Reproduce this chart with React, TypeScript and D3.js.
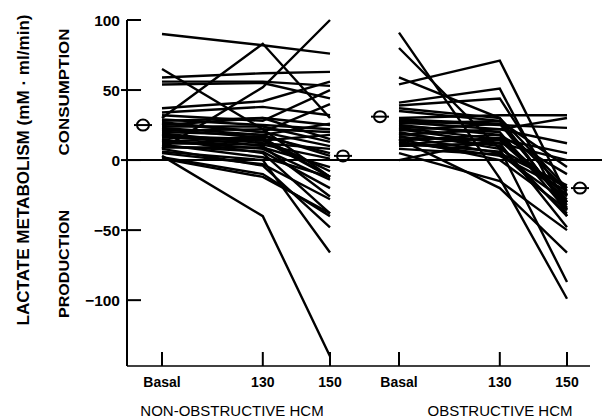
import React from "react";
import * as d3 from "d3";

// workload levels: basal drawn as 100 so 130/150 fall where the paper puts them
const levels = [100, 130, 150];
const levelLabels = ["Basal", "130", "150"];
const yTicks = [100, 50, 0, -50, -100];

// each row: [basal, 130, 150]
const nonObstructive = [
  [90, 82, 76],
  [30, 83, 30],
  [8, 52, 100],
  [65, 22, -12],
  [59, 62, 63],
  [56, 56, 53],
  [54, 55, 44],
  [37, 42, 56],
  [34, 38, 32],
  [32, 28, 50],
  [29, 25, 22],
  [28, 30, 15],
  [27, 20, 40],
  [26, 20, 10],
  [24, 24, 13],
  [23, 18, 26],
  [22, 16, -12],
  [21, 22, 20],
  [20, 18, 3],
  [19, 12, 8],
  [18, 10, -26],
  [17, 15, -8],
  [16, 14, -12],
  [15, 5, -38],
  [14, 8, -14],
  [13, 17, 5],
  [12, 11, 1],
  [11, 2, -12],
  [10, 6, -20],
  [9, 9, -5],
  [8, -4, -48],
  [6, 0, -66],
  [5, -3, -28],
  [3, -40, -140],
  [2, -10, -40],
  [1, -12, -38],
  [12, 14, 18],
  [25, 30, 25],
];

const obstructive = [
  [91, -13, -99],
  [80, 8, -87],
  [59, 30, -35],
  [54, 71, -25],
  [41, 51, -40],
  [39, 44, -30],
  [37, 30, -20],
  [35, 28, -34],
  [30, 32, 32],
  [29, 26, -22],
  [28, 25, 23],
  [27, 22, 12],
  [26, 28, -5],
  [25, 18, -30],
  [24, 20, -36],
  [23, 15, -25],
  [22, 12, -48],
  [21, 26, -32],
  [20, 8, -20],
  [19, 10, -40],
  [18, 22, 30],
  [17, 5, -18],
  [16, 14, -28],
  [15, -20, -66],
  [15, 0, -35],
  [14, 18, -10],
  [13, 3, -22],
  [12, 6, -38],
  [11, 16, -26],
  [10, 12, 0],
  [8, 4, -30],
  [0, 15, 5],
  [5, -15, -50],
];

// group means at basal and 150
const meanNon = [25, 3];
const meanObs = [31, -20];

const font = "'Liberation Sans', Arial, sans-serif";

function Mean({ x, y }: { x: number; y: number }) {
  return (
    <g stroke="#000" strokeWidth={2} fill="none">
      <ellipse cx={x} cy={y} rx={6} ry={5.5} />
      <line x1={x - 9} x2={x + 9} y1={y} y2={y} />
    </g>
  );
}

function Panel({ data, x, mean, title, titleX, y }: any) {
  const line = d3
    .line<number>()
    .x((_, i) => x(levels[i]))
    .y((d) => y(d));
  return (
    <g>
      {data.map((d: number[], i: number) => (
        <path key={i} d={line(d) || ""} fill="none" stroke="#000" strokeWidth={2.4} />
      ))}
      {levels.map((l, i) => (
        <g key={l}>
          <line x1={x(l)} x2={x(l)} y1={y(-147)} y2={y(-147) - 14} stroke="#000" strokeWidth={2} />
          <text x={x(l)} y={387} textAnchor="middle" fontSize={14} fontWeight="bold" fontFamily={font}>
            {levelLabels[i]}
          </text>
        </g>
      ))}
      <Mean x={x(100) - 19} y={y(mean[0])} />
      <Mean x={x(150) + 13} y={y(mean[1])} />
      <text x={titleX} y={416} textAnchor="middle" fontSize={15} fontFamily={font}>
        {title}
      </text>
    </g>
  );
}

export default function App() {
  const width = 602;
  const height = 418;
  const y = d3.scaleLinear().domain([-147, 100]).range([366, 20]);
  const xL = d3.scaleLinear().domain([100, 150]).range([162, 330]);
  const xR = d3.scaleLinear().domain([100, 150]).range([399, 567]);
  const axisX = 127;

  return (
    <svg
      width={width}
      height={height}
      style={{ position: "absolute", left: 0, top: 0, background: "#fff" }}
    >
      {/* y axis */}
      <line x1={axisX} x2={axisX} y1={y(100)} y2={y(-147)} stroke="#000" strokeWidth={2} />
      {yTicks.map((t) => (
        <g key={t}>
          <line
            x1={t === 100 || t === -100 ? axisX : axisX - 6}
            x2={axisX + 14}
            y1={y(t)}
            y2={y(t)}
            stroke="#000"
            strokeWidth={2}
          />
          <text x={120} y={y(t) + 5.5} textAnchor="end" fontSize={15.5} fontWeight="bold" fontFamily={font}>
            {t < 0 ? "\u2212" + Math.abs(t) : t}
          </text>
        </g>
      ))}
      {/* zero line and bottom axis */}
      <line x1={axisX} x2={602} y1={y(0)} y2={y(0)} stroke="#000" strokeWidth={2} />
      <line x1={axisX} x2={590} y1={y(-147)} y2={y(-147)} stroke="#000" strokeWidth={1.5} />

      <Panel data={nonObstructive} x={xL} y={y} mean={meanNon} title="NON-OBSTRUCTIVE HCM" titleX={232} />
      <Panel data={obstructive} x={xR} y={y} mean={meanObs} title="OBSTRUCTIVE HCM" titleX={500} />

      {/* axis titles */}
      <text
        transform="translate(29,170) rotate(-90)"
        textAnchor="middle"
        fontSize={16}
        fontWeight="bold"
        fontFamily={font}
        textLength={311}
        lengthAdjust="spacingAndGlyphs"
      >
        LACTATE METABOLISM (mM · ml/min)
      </text>
      <text
        transform="translate(69,92) rotate(-90)"
        textAnchor="middle"
        fontSize={15}
        fontWeight="bold"
        fontFamily={font}
        textLength={127}
        lengthAdjust="spacingAndGlyphs"
      >
        CONSUMPTION
      </text>
      <text
        transform="translate(69,264) rotate(-90)"
        textAnchor="middle"
        fontSize={15}
        fontWeight="bold"
        fontFamily={font}
        textLength={108}
        lengthAdjust="spacingAndGlyphs"
      >
        PRODUCTION
      </text>
    </svg>
  );
}
